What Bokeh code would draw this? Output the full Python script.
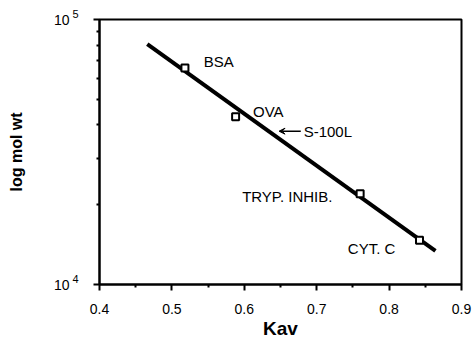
from bokeh.plotting import figure
from bokeh.models import FixedTicker, Arrow, VeeHead, ColumnDataSource, Label, LogAxis
from bokeh.embed import file_html
from bokeh.resources import INLINE
from bokeh.core.properties import value

# Data
proteins = ["BSA", "OVA", "TRYP. INHIB.", "CYT. C"]
kav = [0.518, 0.588, 0.760, 0.842]
mol_wt = [65600, 43000, 22000, 14700]

fit_kav = [0.466, 0.864]
fit_mw = [80700, 13400]

s100l_kav = 0.648
s100l_mw = 37900

x_ticks = [0.4, 0.5, 0.6, 0.7, 0.8, 0.9]
x_minor = [0.45, 0.55, 0.65, 0.75, 0.85]
y_ticks = [10000, 100000]
y_tick_base = ["10", "10"]
y_tick_exp = ["4", "5"]
y_minor = [20000, 30000, 40000, 50000, 60000, 70000, 80000, 90000]

# label placement (annotation positions)
label_x = [0.544, 0.612, 0.597, 0.743]
label_y = [69700, 45000, 21500, 13700]

FONT = "Liberation Sans"

p = figure(width=475, height=341, x_range=(0.4, 0.9), y_range=(10000, 100000),
           y_axis_type="log", output_backend="svg", toolbar_location=None,
           min_border_left=99, min_border_top=19, min_border_right=14,
           min_border_bottom=54)

p.grid.visible = False
p.background_fill_color = "white"
p.border_fill_color = "white"
p.outline_line_color = "black"
p.outline_line_width = 2

# fitted line
p.line(fit_kav, fit_mw, line_color="black", line_width=4)

# standards
p.scatter(kav, mol_wt, marker="square", size=7, fill_color="white",
          line_color="black", line_width=2)

src = ColumnDataSource(dict(x=label_x, y=label_y, t=proteins))
p.text(x="x", y="y", text="t", source=src, text_font=value(FONT),
       text_font_size="15px", text_color="black", text_baseline="middle",
       text_align="left")

# S-100L arrow
p.add_layout(Arrow(end=VeeHead(size=6, line_color="black", fill_color="black", line_width=1),
                   x_start=0.678, y_start=s100l_mw, x_end=s100l_kav, y_end=s100l_mw,
                   line_color="black", line_width=1.5))
p.add_layout(Label(x=0.682, y=s100l_mw, text="S-100L", text_font=FONT,
                   text_font_size="15px", text_baseline="middle", text_color="black"))

# axes
p.xaxis.ticker = FixedTicker(ticks=x_ticks, minor_ticks=x_minor)
p.yaxis.ticker = FixedTicker(ticks=y_ticks, minor_ticks=y_minor)

for ax in (p.xaxis[0], p.yaxis[0]):
    ax.axis_line_width = 2
    ax.axis_line_color = "black"
    ax.major_tick_line_width = 2
    ax.minor_tick_line_width = 2
    ax.major_tick_in = 0
    ax.major_tick_out = 6
    ax.minor_tick_in = 0
    ax.minor_tick_out = 3
    ax.major_label_text_font = FONT
    ax.major_label_text_font_size = "14px"
    ax.major_label_text_color = "black"
    ax.axis_label_text_font = FONT
    ax.axis_label_text_font_style = "bold"
    ax.axis_label_text_color = "black"

# inner left axis: exponents (superscripts, raised by an empty second line)
ya = p.yaxis[0]
ya.major_label_overrides = {float(t): e + "\n " for t, e in zip(y_ticks, y_tick_exp)}
ya.major_label_text_font_size = "11px"
ya.major_label_text_line_height = 1.0
ya.major_label_standoff = 15

# outer left axis: base "10" and axis title
base_axis = LogAxis(ticker=FixedTicker(ticks=y_ticks, minor_ticks=[]),
                    axis_line_color=None, major_tick_line_color=None,
                    minor_tick_line_color=None, major_tick_in=0, major_tick_out=0,
                    minor_tick_in=0, minor_tick_out=0,
                    major_label_standoff=0,
                    major_label_overrides={float(t): b for t, b in zip(y_ticks, y_tick_base)},
                    major_label_text_font=FONT, major_label_text_font_size="14px",
                    major_label_text_color="black",
                    axis_label="log mol wt", axis_label_text_font=FONT,
                    axis_label_text_font_style="bold", axis_label_text_font_size="16px",
                    axis_label_text_color="black", axis_label_standoff=26)
p.add_layout(base_axis, "left")

p.xaxis.axis_label = "Kav"
p.xaxis.axis_label_text_font_size = "19px"
p.xaxis.major_label_standoff = 13
p.xaxis.axis_label_standoff = 1

open("out.html", "w").write(file_html(p, INLINE))
